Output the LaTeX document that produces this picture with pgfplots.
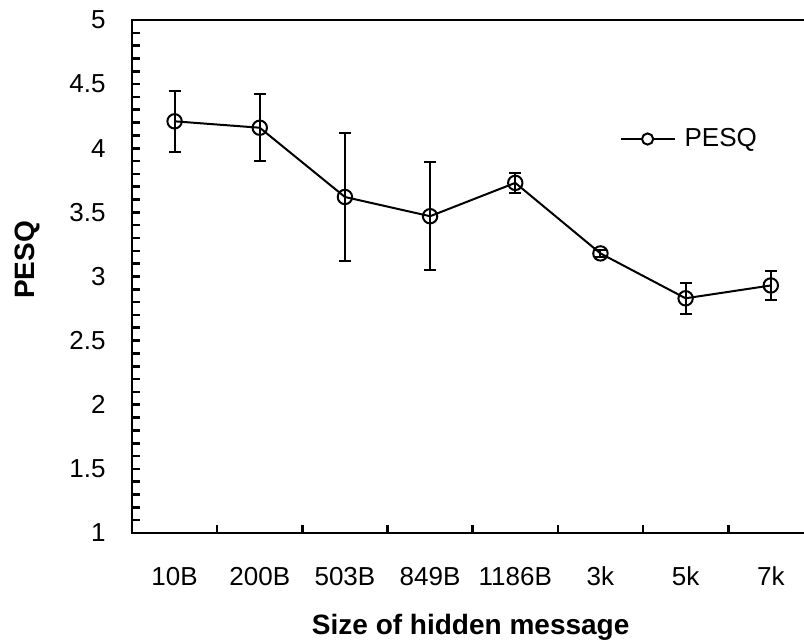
\documentclass[border=0pt]{standalone}
\usepackage{pgfplots}
\pgfplotsset{compat=1.18}
\usepackage{fontspec}
\setmainfont{Liberation Sans}
\begin{document}
\begin{tikzpicture}
\begin{axis}[
  scale only axis,
  width=336pt, height=256.5pt,
  xmin=-0.5, xmax=7.39,
  ymin=1, ymax=5,
  clip=false,
  axis line style={draw=none},
  xtick={0,1,2,3,4,5,6,7},
  xticklabels={10B,200B,503B,849B,1186B,3k,5k,7k},
  major x tick style={draw=none},
  minor xtick={0.5,1.5,2.5,3.5,4.5,5.5,6.5},
  xtick pos=bottom,
  ytick={1,1.5,2,2.5,3,3.5,4,4.5,5},
  minor y tick num=4,
  ytick pos=left,
  tick align=inside,
  major tick length=4.2pt,
  minor tick length=3.8pt,
  tick style={line width=1.3pt, black},
  /pgf/number format/assume math mode=true,
  ticklabel style={font=\fontsize{13}{15}\selectfont},
  xticklabel style={yshift=-13.5pt},
  yticklabel style={xshift=-9.7pt},
  xlabel={Size of hidden message},
  ylabel={PESQ},
  label style={font=\bfseries\fontsize{14}{16}\selectfont},
  xlabel style={at={(axis description cs:0.504,-0.183)}, anchor=center},
  ylabel style={at={(axis description cs:-0.156,0.532)}, anchor=center},
  legend style={at={(axis description cs:0.725,0.768)}, anchor=west, draw=none, fill=none,
    font=\fontsize{13}{15}\selectfont, inner sep=0pt,
    nodes={inner xsep=4.5pt}},
  legend image code/.code={%
    \draw[line width=1pt,black] (0pt,0pt) -- (27pt,0pt);
    \draw[line width=1pt,black,fill=white] (13.5pt,0pt) circle (2.8pt);},
]
\addplot[black, line width=1pt, mark=o, mark size=3.6pt,
  mark options={line width=1pt},
  error bars/.cd, y dir=both, y explicit,
  error bar style={line width=1pt, black},
  error mark options={rotate=90, mark size=3pt, line width=1pt, black}]
  table[x=x, y=y, y error=e] {
x y e
0 4.21 0.24
1 4.16 0.26
2 3.62 0.50
3 3.47 0.42
4 3.73 0.08
5 3.18 0.03
6 2.83 0.12
7 2.93 0.11
};
\addlegendentry{PESQ}
\draw[line width=1.3pt, line join=miter] (rel axis cs:1,1) -- (rel axis cs:0,1) -- (rel axis cs:0,0) -- (rel axis cs:1,0);
\coordinate (bl) at (rel axis cs:0,0);
\coordinate (tr) at (rel axis cs:1,1);
\end{axis}
\pgfresetboundingbox
\path ([shift={(-66pt,-54pt)}]bl) rectangle ([shift={(0pt,10pt)}]tr);
\end{tikzpicture}
\end{document}
